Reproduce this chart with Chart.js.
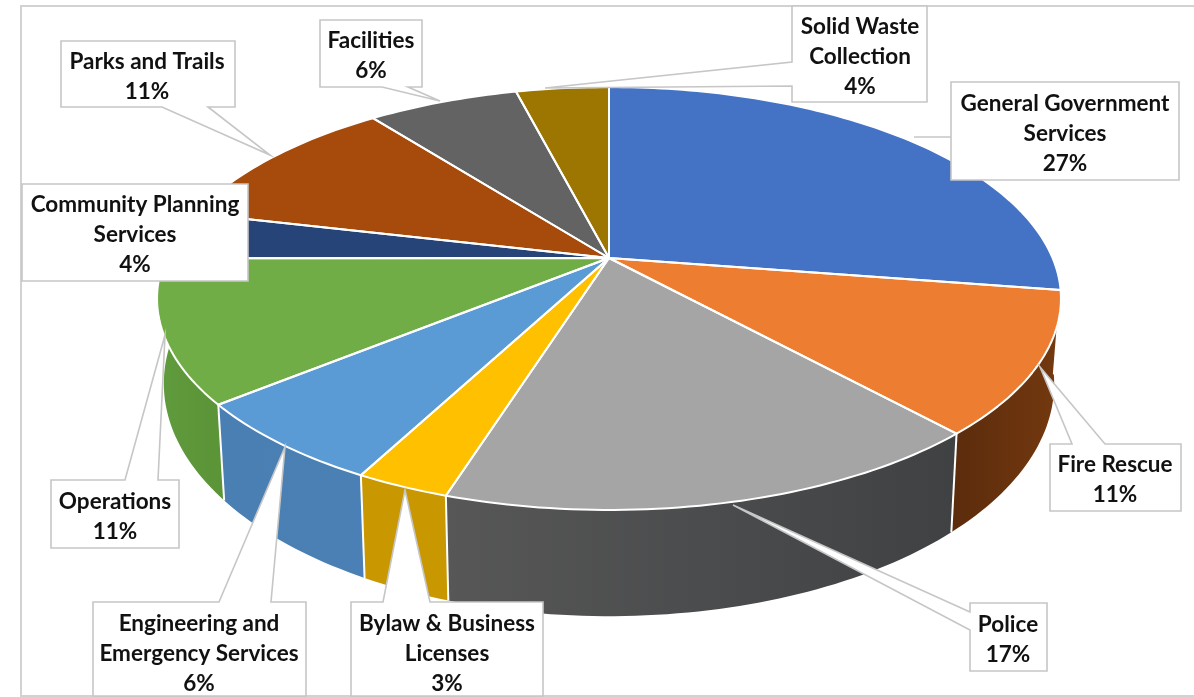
<!DOCTYPE html>
<html>
<head>
<meta charset="utf-8">
<style>html,body{margin:0;padding:0;background:#fff}canvas{display:block}</style>
<script src="https://cdn.jsdelivr.net/npm/chart.js@4/dist/chart.umd.min.js"></script>
</head>
<body>
<canvas id="c" width="1194" height="697"></canvas>
<script>
const categories = ['General Government Services','Fire Rescue','Police','Bylaw & Business Licenses','Engineering and Emergency Services','Operations','Community Planning Services','Parks and Trails','Facilities','Solid Waste Collection'];
const shares = [27.45,10.82,16.6,2.83,6.4,10.9,3.67,10.85,6.5,4];
const percentLabels = ['27%','11%','17%','3%','6%','11%','4%','11%','6%','4%'];
const topColors = ['#4472c4','#ed7d31','#a5a5a5','#ffc000','#5b9bd5','#70ad47','#264478','#a64b0b','#636363','#9c7600'];
const sideColorsA = ['#2f5597','#74390f','#3f4143','#c99700','#4a80b5','#5c9438','#1c3358','#74350a','#4a4a4a','#725600'];
const sideColorsB = ['#2f5597','#5c2c0c','#575757','#c99700','#4a7fb3','#5f9a3c','#1c3358','#74350a','#4a4a4a','#725600'];

// label layout: wrapped lines, text centre x, first line centre y
const labelLines = [['General Government','Services'],['Fire Rescue'],['Police'],['Bylaw & Business','Licenses'],['Engineering and','Emergency Services'],['Operations'],['Community Planning','Services'],['Parks and Trails'],['Facilities'],['Solid Waste','Collection']];
const labelAnchors = [[1065,104],[1115,465],[1008,625],[447,624],[199,624],[115,502],[135,205],[147,62],[371,41],[860,27]];
const calloutShapes = [
 [[951,82],[1179,82],[1179,180],[951,180],[951,137],[914,137],[951,137]],
 [[1050,444],[1072,444],[1040,367],[1105,444],[1181,444],[1181,511],[1050,511]],
 [[970,603],[1047,603],[1047,671],[970,671],[970,630],[733,505],[970,612]],
 [[351,602],[383,602],[405,490],[430,602],[543,602],[543,696],[351,696]],
 [[93,602],[219,602],[285,447],[271,602],[306,602],[306,696],[93,696]],
 [[51,480],[125,480],[165,335],[158,480],[179,480],[179,548],[51,548]],
 [[22,184],[248,184],[248,281],[22,281]],
 [[61,41],[235,41],[235,107],[208,107],[270,155],[162,107],[61,107]],
 [[320,20],[422,20],[422,87],[408,87],[440,101],[382,87],[320,87]],
 [[792,6],[927,6],[927,102],[792,102],[792,86],[545,88],[792,62]]
];

// view of the tilted disc
const view = {cx:609, cy:258, a:443.6, b:203.7, k:-0.1915, sx:0.985, sy:1.1, drop:81};
function rimPoint(theta, lower){
  const u = Math.sin(theta), v = -Math.cos(theta), d = 1 + view.k*v;
  const x = view.a*u/d, y = view.b*v/d;
  return lower ? [view.cx + x*view.sx, view.cy + view.drop + y*view.sy] : [view.cx + x, view.cy + y];
}
function arcPoints(t0, t1, lower){
  const n = Math.max(2, Math.ceil(Math.abs(t1-t0)/0.02)), out = [];
  for(let i=0;i<=n;i++) out.push(rimPoint(t0+(t1-t0)*i/n, lower));
  return out;
}
function trace(ctx, pts, close){
  ctx.beginPath();
  pts.forEach((p,i)=> i ? ctx.lineTo(p[0],p[1]) : ctx.moveTo(p[0],p[1]));
  if(close) ctx.closePath();
}

const disc3d = {
  id:'disc3d',
  beforeDatasetsDraw(chart){
    const ctx = chart.ctx, arcs = chart.getDatasetMeta(0).data;
    const spans = arcs.map(el=>{
      const p = el.getProps(['startAngle','endAngle'], true);
      return [p.startAngle+Math.PI/2, p.endAngle+Math.PI/2];
    });
    ctx.save();
    // frame of the picture
    ctx.fillStyle='#fff'; ctx.fillRect(0,0,1194,697);
    ctx.strokeStyle='#d2d2d2'; ctx.lineWidth=2;
    trace(ctx,[[1194,6],[21,6],[21,696],[1194,696]],false); ctx.stroke();

    // side wall of the front half
    const front0 = Math.PI*0.45, front1 = Math.PI*1.55;
    spans.forEach((s,i)=>{
      const t0 = Math.max(s[0],front0), t1 = Math.min(s[1],front1);
      if(t1<=t0) return;
      const up = arcPoints(t0,t1,false), lo = arcPoints(t0,t1,true).reverse();
      const g = ctx.createLinearGradient(up[0][0],0,up[up.length-1][0],0);
      g.addColorStop(0,sideColorsA[i]); g.addColorStop(1,sideColorsB[i]);
      ctx.fillStyle=g;
      trace(ctx,up.concat(lo),true); ctx.fill();
    });
    // white edges between wall segments
    ctx.strokeStyle='#fff'; ctx.lineWidth=2;
    spans.forEach(s=>{
      if(s[1]>front0 && s[1]<front1){
        trace(ctx,[rimPoint(s[1],false),rimPoint(s[1],true)],false); ctx.stroke();
      }
    });
    // top face
    spans.forEach((s,i)=>{
      ctx.fillStyle=topColors[i];
      trace(ctx,[[view.cx,view.cy]].concat(arcPoints(s[0],s[1],false)),true); ctx.fill();
    });
    ctx.strokeStyle='#fff'; ctx.lineWidth=2; ctx.lineJoin='round';
    spans.forEach(s=>{
      trace(ctx,[[view.cx,view.cy]].concat(arcPoints(s[0],s[1],false)),true); ctx.stroke();
    });

    // callouts
    ctx.lineJoin='miter';
    calloutShapes.forEach(shape=>{
      ctx.fillStyle='#fff'; ctx.strokeStyle='#c6c6c6'; ctx.lineWidth=1.6;
      trace(ctx,shape,true); ctx.fill(); ctx.stroke();
    });
    ctx.fillStyle='#111'; ctx.font='700 22.5px Lato'; ctx.textAlign='center'; ctx.textBaseline='middle';
    labelLines.forEach((lines,i)=>{
      const a = labelAnchors[i];
      lines.concat([percentLabels[i]]).forEach((t,j)=> ctx.fillText(t,a[0],a[1]+j*29.7));
    });
    ctx.restore();
    return false;
  }
};

new Chart(document.getElementById('c'),{
  type:'pie',
  data:{labels:categories,datasets:[{data:shares,backgroundColor:topColors}]},
  options:{responsive:false,animation:false,rotation:0,
    plugins:{legend:{display:false},tooltip:{enabled:false}}},
  plugins:[disc3d]
});
</script>
</body>
</html>
